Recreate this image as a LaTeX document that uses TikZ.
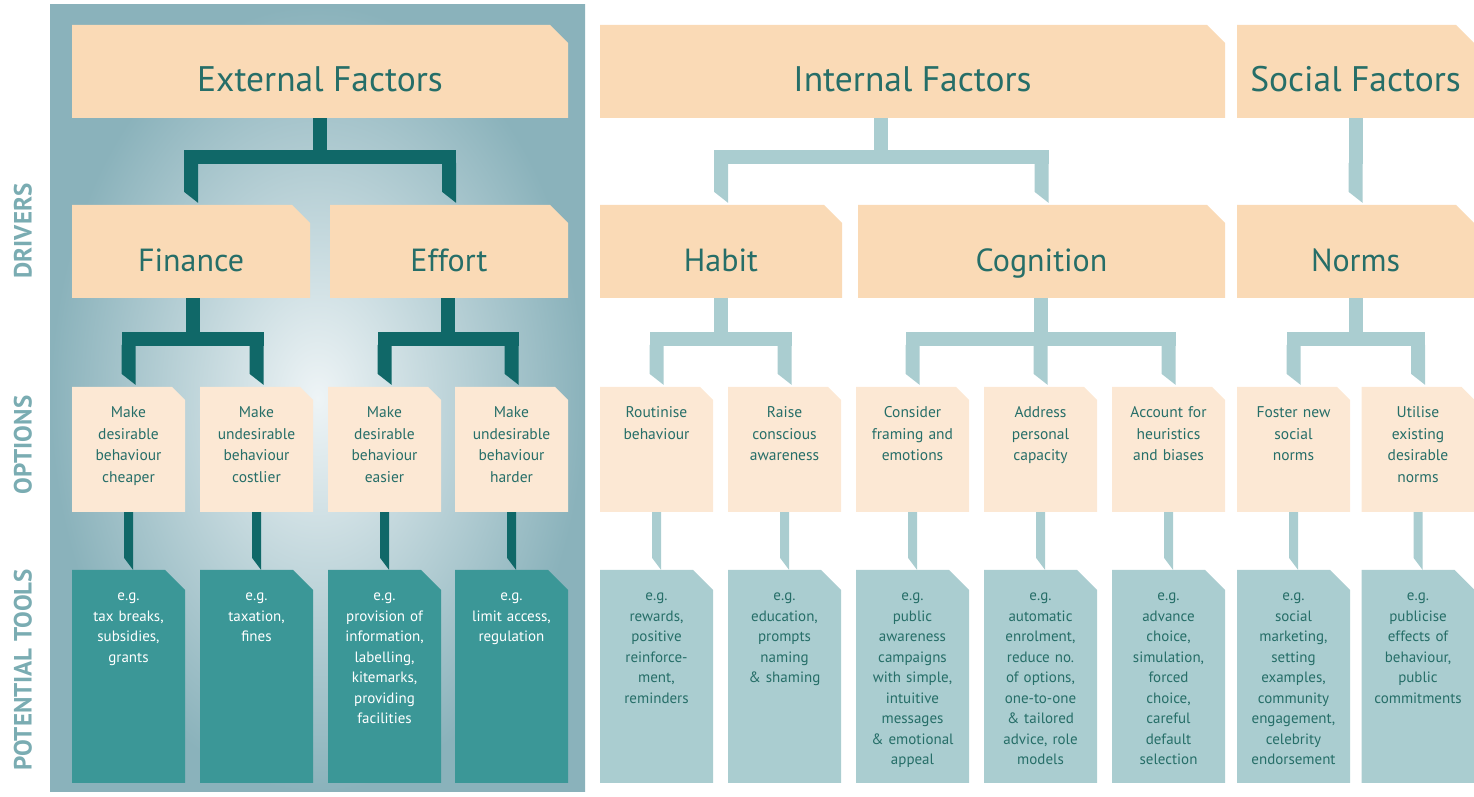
\documentclass[tikz,border=0pt]{standalone}
\usepackage{fontspec}
\setmainfont{PT Sans}
\usetikzlibrary{calc}
\definecolor{pesca}{RGB}{250,218,182}
\definecolor{pescachiara}{RGB}{252,232,212}
\definecolor{testo}{RGB}{38,110,104}
\definecolor{scuro}{RGB}{16,104,104}
\definecolor{verdeacqua}{RGB}{59,151,151}
\definecolor{azzurro}{RGB}{170,205,208}
\definecolor{etichetta}{RGB}{122,172,178}
\definecolor{fondoS}{RGB}{138,178,187}
\definecolor{fondoC}{RGB}{238,244,246}
\begin{document}
\begin{tikzpicture}[x=1pt, y=1pt,
			piega/.style 2 args={path picture={\fill[#1]
					(path picture bounding box.south west)
					|- ([xshift=-#2]path picture bounding box.north east)
					-- ([yshift=-#2]path picture bounding box.north east)
					|- (path picture bounding box.south west) -- cycle;}},
			fattore/.style={rectangle, inner sep=0pt, minimum height=93pt, text=testo,
				text height=40pt, text depth=0pt, font=\fontsize{35.5}{42}\selectfont,
				piega={pesca}{18pt}},
			leva/.style={fattore, font=\fontsize{32}{38}\selectfont},
			opzione/.style={rectangle, inner sep=0pt, minimum width=113pt, text width=106pt,
				align=center, text height=31pt, text depth=94pt, text=testo,
				font=\fontsize{15.5}{21.5}\selectfont, piega={pescachiara}{13pt}},
			strumento/.style={opzione, text depth=182pt, font=\fontsize{15}{20.5}\selectfont},
			strscuro/.style={strumento, text=white, piega={verdeacqua}{20pt}},
			strchiaro/.style={strumento, piega={azzurro}{20pt}},
			riga/.style={rotate=90, text=etichetta, font=\fontsize{25}{30}\selectfont\bfseries},
			]
			
			%% raccordi --------------------------------------------
			%% ramo: gambo dal padre #1 e barra fra i figli #2 ... #3
			\newcommand{\ramo}[4]{%
				\coordinate (m) at ($(#2.north)!0.5!(#3.north)$);
				\coordinate (ms) at (m |- #1.south);
				\fill[#4]([xshift=-7]ms) rectangle ([shift={(7,48)}]m);
				\fill[#4]([shift={(-7,55)}]#2.north) rectangle ([shift={(7,41)}]#3.north);}
			%% punta: goccia dalla barra al figlio #1
			\newcommand{\punta}[2]{%
				\fill[#2]([shift={(-7,42)}]#1.north)--([shift={(7,42)}]#1.north)
				--([shift={(7,2)}]#1.north)--([shift={(-7,13)}]#1.north)--cycle;}
			%% gambo: asticciola da opzione #1 a strumento #2
			\newcommand{\gambo}[3]{%
				\fill[#3]([xshift=-4.5]#1.south)--([xshift=4.5]#1.south)
				--([xshift=4.5]#2.north)--([shift={(-4.5,12)}]#2.north)--cycle;}
			
			\useasboundingbox (0,0) rectangle (1474,797);
			%% pannello dei fattori esterni
			\shade[inner color=fondoC, outer color=fondoS](50,5) rectangle (585,792);
			
			%% etichette delle righe
			\node[riga] (lDri) at (23,566) {DRIVERS};
			\node[riga] (lOpz) at (23,352) {OPTIONS};
			\node[riga] (lStr) at (23,127) {POTENTIAL TOOLS};
			
			%% =========================================================
			%% fattori e leve
			%% =========================================================
			\node[fattore, minimum width=496pt] (Ext) at (320,725.5) {External Factors};
			\node[fattore, minimum width=625pt] (Int) at (912.5,725.5) {Internal Factors};
			\node[fattore, minimum width=237pt] (Soc) at (1355.5,725.5) {Social Factors};
			
			\node[leva, minimum width=238pt] (Fin) at (191,545.5) {Finance};
			\node[leva, minimum width=238pt] (Eff) at (449,545.5) {Effort};
			\node[leva, minimum width=242pt] (Hab) at (721,545.5) {Habit};
			\node[leva, minimum width=367pt] (Cog) at (1041.5,545.5) {Cognition};
			\node[leva, minimum width=237pt] (Nor) at (1355.5,545.5) {Norms};
			
			%% =========================================================
			%% opzioni
			%% =========================================================
			\node[opzione] (O1) at (128.5,347.5) {Make\\desirable\\behaviour\\cheaper};
			\node[opzione] (O2) at (256.5,347.5) {Make\\undesirable\\behaviour\\costlier};
			\node[opzione] (O3) at (384.5,347.5) {Make\\desirable\\behaviour\\easier};
			\node[opzione] (O4) at (511.5,347.5) {Make\\undesirable\\behaviour\\harder};
			\node[opzione] (O5) at (656.5,347.5) {Routinise\\behaviour};
			\node[opzione] (O6) at (784.5,347.5) {Raise\\conscious\\awareness};
			\node[opzione] (O7) at (912.5,347.5) {Consider\\framing and\\emotions};
			\node[opzione] (O8) at (1040.5,347.5) {Address\\personal\\capacity};
			\node[opzione] (O9) at (1168.5,347.5) {Account for\\heuristics\\and biases};
			\node[opzione] (O10) at (1293.5,347.5) {Foster new\\social\\norms};
			\node[opzione] (O11) at (1418,347.5) {Utilise\\existing\\desirable\\norms};
			
			%% =========================================================
			%% strumenti
			%% =========================================================
			\node[strscuro] (T1) at (128.5,120.5) {e.g.\\tax breaks,\\subsidies,\\grants};
			\node[strscuro] (T2) at (256.5,120.5) {e.g.\\taxation,\\fines};
			\node[strscuro] (T3) at (384.5,120.5) {e.g.\\provision of\\information,\\labelling,\\kitemarks,\\providing\\facilities};
			\node[strscuro] (T4) at (511.5,120.5) {e.g.\\limit access,\\regulation};
			\node[strchiaro] (T5) at (656.5,120.5) {e.g.\\rewards,\\positive\\reinforce-\\ment,\\reminders};
			\node[strchiaro] (T6) at (784.5,120.5) {e.g.\\education,\\prompts\\naming\\\& shaming};
			\node[strchiaro] (T7) at (912.5,120.5) {e.g.\\public\\awareness\\campaigns\\with simple,\\intuitive\\messages\\\& emotional\\appeal};
			\node[strchiaro] (T8) at (1040.5,120.5) {e.g.\\automatic\\enrolment,\\reduce no.\\of options,\\one-to-one\\\& tailored\\advice, role\\models};
			\node[strchiaro] (T9) at (1168.5,120.5) {e.g.\\advance\\choice,\\simulation,\\forced\\choice,\\careful\\default\\selection};
			\node[strchiaro] (T10) at (1293.5,120.5) {e.g.\\social\\marketing,\\setting\\examples,\\community\\engagement,\\celebrity\\endorsement};
			\node[strchiaro] (T11) at (1418,120.5) {e.g.\\publicise\\effects of\\behaviour,\\public\\commitments};
			
			%% =========================================================
			%% raccordi fra i livelli
			%% =========================================================
			\ramo{Ext}{Fin}{Eff}{scuro}
			\ramo{Int}{Hab}{Cog}{azzurro}
			\ramo{Soc}{Nor}{Nor}{azzurro}
			\foreach \c/\col in {Fin/scuro,Eff/scuro,Hab/azzurro,Cog/azzurro,Nor/azzurro}
			{\punta{\c}{\col}}
			
			\ramo{Fin}{O1}{O2}{scuro}
			\ramo{Eff}{O3}{O4}{scuro}
			\ramo{Hab}{O5}{O6}{azzurro}
			\ramo{Cog}{O7}{O9}{azzurro}
			\ramo{Nor}{O10}{O11}{azzurro}
			\foreach \i in {1,...,4} {\punta{O\i}{scuro}}
			\foreach \i in {5,...,11} {\punta{O\i}{azzurro}}
			
			%% opzioni -> strumenti
			\foreach \i in {1,...,4} {\gambo{O\i}{T\i}{scuro}}
			\foreach \i in {5,...,11} {\gambo{O\i}{T\i}{azzurro}}
			
\end{tikzpicture}
\end{document}
